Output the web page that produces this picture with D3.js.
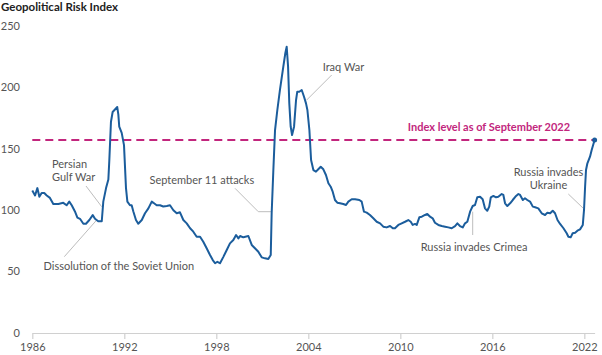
<!DOCTYPE html>
<html>
<head>
<meta charset="utf-8">
<script src="https://cdn.jsdelivr.net/npm/d3@7"></script>
<style>
  html, body { margin: 0; padding: 0; background: #fff; }
  svg { display: block; font-family: Lato, "Open Sans", sans-serif; }
</style>
</head>
<body>
<svg id="chart" width="602" height="355"></svg>
<script>
// ---- Data ----
const title = "Geopolitical Risk Index";
const yTicks = [0, 50, 100, 150, 200, 250];
const xTicks = [1986, 1992, 1998, 2004, 2010, 2016, 2022];
const currentLevel = 157.2;
const currentLabel = "Index level as of September 2022";

const years = [
  1986.00,1986.18,1986.33,1986.46,1986.61,1986.78,1986.94,1987.15,1987.37,1987.70,
  1988.02,1988.24,1988.41,1988.57,1988.78,1988.94,1989.11,1989.33,1989.50,1989.72,
  1989.94,1990.09,1990.30,1990.53,1990.63,1990.81,1990.96,1991.02,1991.13,1991.24,
  1991.39,1991.54,1991.61,1991.67,1991.83,1991.98,1992.11,1992.20,1992.37,1992.48,
  1992.59,1992.76,1992.91,1993.14,1993.35,1993.57,1993.79,1993.94,1994.11,1994.33,
  1994.54,1994.77,1994.98,1995.20,1995.42,1995.63,1995.85,1996.07,1996.29,1996.50,
  1996.72,1996.94,1997.15,1997.37,1997.59,1997.77,1997.92,1998.07,1998.24,1998.46,
  1998.68,1998.89,1999.11,1999.29,1999.44,1999.55,1999.76,2000.09,2000.31,2000.52,
  2000.74,2000.96,2001.18,2001.39,2001.55,2001.61,2001.72,2001.83,2001.98,2002.15,
  2002.37,2002.50,2002.59,2002.68,2002.76,2002.85,2002.94,2003.07,2003.20,2003.28,
  2003.41,2003.57,2003.72,2003.85,2003.94,2004.07,2004.18,2004.33,2004.50,2004.65,
  2004.81,2004.98,2005.15,2005.31,2005.46,2005.59,2005.74,2005.89,2006.07,2006.28,
  2006.46,2006.61,2006.83,2007.05,2007.33,2007.48,2007.63,2007.81,2008.02,2008.24,
  2008.46,2008.68,2008.89,2009.11,2009.33,2009.51,2009.65,2009.87,2010.09,2010.31,
  2010.52,2010.68,2010.81,2010.96,2011.07,2011.24,2011.40,2011.61,2011.76,2011.94,
  2012.11,2012.26,2012.48,2012.70,2012.92,2013.13,2013.35,2013.57,2013.72,2013.89,
  2014.07,2014.22,2014.37,2014.55,2014.72,2014.87,2015.02,2015.20,2015.37,2015.52,
  2015.67,2015.80,2015.90,2016.07,2016.24,2016.39,2016.61,2016.72,2016.83,2016.98,
  2017.16,2017.33,2017.55,2017.70,2017.81,2017.99,2018.13,2018.28,2018.46,2018.64,
  2018.79,2019.00,2019.22,2019.44,2019.59,2019.77,2019.94,2020.09,2020.25,2020.42,
  2020.64,2020.85,2020.96,2021.11,2021.24,2021.40,2021.55,2021.72,2021.90,2021.98,
  2022.05,2022.11,2022.20,2022.37,2022.48,2022.67
];
const gpr = [
  116,112,118,111,114,114,112,110,105,105,
  106,104,107,104,99,94,93,89,89,92,
  96,93,91,91,107,118,125,140,172,180,
  182,184,178,168,163,153,118,107,104,104,
  99,92,89,92,97.5,101.5,107,105.6,104,104,
  103,103.4,104,100,97.5,98.3,92,89.3,85.3,82.5,
  78.4,78.4,74.3,69,63.5,59.4,56.8,58,56.8,62,
  67.6,73,75.7,79.8,77.1,79,77.9,79,71.7,69,
  66.2,61.6,60.8,60.3,63.5,97.5,132.7,165.3,181.6,197.9,
  216.9,227.8,233.1,216.9,187,168,161.2,168,189.7,196.5,
  196.5,197.9,192.4,187,181.6,165.3,140.9,132.7,131.4,133.3,
  135.4,133.3,128.7,121.9,119.1,115.1,108.3,106.1,105.6,105,
  104.2,107,108.9,108.9,108.3,107,98.8,98,96.1,93.4,
  90.6,89.3,86.6,86,87.1,85.3,85.3,88,89.3,90.6,
  92,90.6,88,88.8,88,94.2,94.7,96.1,96.9,94.7,
  93.4,89.8,88,87.1,86.6,86,85.3,87.1,89.3,87.1,
  86,89.3,90.6,98.8,103.4,104.2,110.5,111,108.9,101.5,
  99.6,102.9,110.5,111.6,110.5,111,113.2,112.4,105.6,103.4,
  105.6,108.3,111.6,113.2,112.4,108.3,109.7,108.3,107,102.9,
  102.4,101.5,97.5,96.1,98,97.5,99.6,97.5,92,88.8,
  85.3,81.2,78.4,77.9,81.2,81.7,83.3,84.4,88,100.2,
  119.1,132.7,138.2,143.6,149,157.2
];

// Annotation texts
const annPersian = ["Persian", "Gulf War"];
const annSoviet = "Dissolution of the Soviet Union";
const annSept11 = "September 11 attacks";
const annIraq = "Iraq War";
const annCrimea = "Russia invades Crimea";
const annUkraine = ["Russia invades", "Ukraine"];

// ---- Drawing ----
const svg = d3.select("#chart");
const x = d3.scaleLinear().domain([1986, 2022.67]).range([32.3, 594.6]);
const y = d3.scaleLinear().domain([0, 250]).range([333, 26]);

const data = years.map((t, i) => ({ t, v: gpr[i] }));
const textColor = "#555";
const leaderColor = "#bdbdbd";
const lineColor = "#1b5d9c";
const hiColor = "#c2267d";

// Title
svg.append("text").attr("x", 1).attr("y", 11)
  .attr("font-size", 11.5).attr("font-weight", 700).attr("fill", "#222")
  .text(title);

// Y axis labels (no axis line)
svg.append("g").selectAll("text").data(yTicks).join("text")
  .attr("x", 20).attr("y", d => y(d)).attr("dy", "0.35em")
  .attr("text-anchor", "end").attr("font-size", 11).attr("fill", textColor)
  .text(d => d);

// X axis
const xAxis = d3.axisBottom(x).tickValues(xTicks).tickFormat(d3.format("d"))
  .tickSize(6).tickSizeOuter(0).tickPadding(4);
const gx = svg.append("g").attr("transform", `translate(0,${y(0)})`).call(xAxis);
gx.select(".domain").attr("stroke", "#d0d0d0").attr("stroke-width", 1.2);
gx.selectAll(".tick line").attr("stroke", "#d0d0d0").attr("stroke-width", 1.2);
gx.selectAll(".tick text").attr("font-size", 11).attr("fill", textColor)
  .attr("font-family", "Lato, 'Open Sans', sans-serif");

// Current level dashed line
svg.append("line")
  .attr("x1", x(1986)).attr("x2", x(2022.67))
  .attr("y1", y(currentLevel)).attr("y2", y(currentLevel))
  .attr("stroke", hiColor).attr("stroke-width", 2).attr("stroke-dasharray", "8,5");
svg.append("text").attr("x", 489).attr("y", y(currentLevel) - 13).attr("dy", "0.35em")
  .attr("text-anchor", "middle").attr("font-size", 11).attr("font-weight", 700)
  .attr("fill", hiColor).text(currentLabel);

// Leader lines
const leaders = [
  [[86, 186], [101.7, 206.7]],
  [[64.3, 256.7], [96.7, 220]],
  [[235, 188.3], [258.3, 211.7], [271.7, 211.7]],
  [[331.7, 75], [306.7, 100]],
  [[472.7, 211.7], [472.7, 235]],
  [[568.3, 194], [583.3, 208.3]]
];
svg.append("g").selectAll("path").data(leaders).join("path")
  .attr("d", d => d3.line()(d)).attr("fill", "none")
  .attr("stroke", leaderColor).attr("stroke-width", 1);

// Main line
svg.append("path").datum(data)
  .attr("d", d3.line().x(d => x(d.t)).y(d => y(d.v)))
  .attr("fill", "none").attr("stroke", lineColor).attr("stroke-width", 2)
  .attr("stroke-linejoin", "round");
const last = data[data.length - 1];
svg.append("circle").attr("cx", x(last.t)).attr("cy", y(last.v)).attr("r", 2.5)
  .attr("fill", lineColor);

// Annotation text
const ann = svg.append("g").attr("font-size", 11).attr("fill", textColor);
ann.selectAll(".p").data(annPersian).join("text")
  .attr("x", 52).attr("y", (d, i) => 164 + i * 13).attr("dy", "0.35em").text(d => d);
ann.append("text").attr("x", 43.5).attr("y", 265.7).attr("dy", "0.35em").text(annSoviet);
ann.append("text").attr("x", 149.5).attr("y", 180.5).attr("dy", "0.35em").text(annSept11);
ann.append("text").attr("x", 322.7).attr("y", 66.7).attr("dy", "0.35em").text(annIraq);
ann.append("text").attr("x", 420.7).attr("y", 246.7).attr("dy", "0.35em").text(annCrimea);
ann.selectAll(".u").data(annUkraine).join("text")
  .attr("x", 548.5).attr("y", (d, i) => 172.3 + i * 12.5).attr("dy", "0.35em")
  .attr("text-anchor", "middle").text(d => d);
</script>
</body>
</html>
